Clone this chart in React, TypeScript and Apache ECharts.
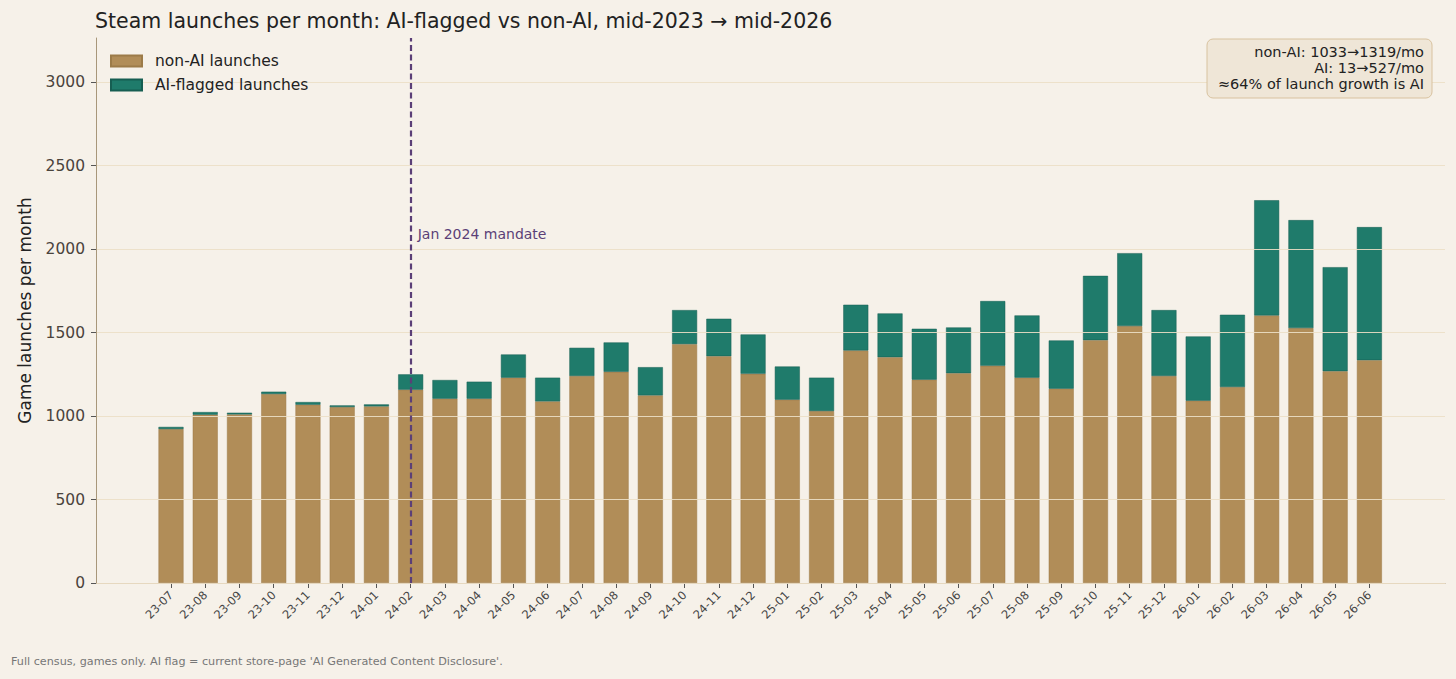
import { useEffect, useRef } from "react";
import * as echarts from "echarts";

const months = [
  "23-07", "23-08", "23-09", "23-10", "23-11", "23-12",
  "24-01", "24-02", "24-03", "24-04", "24-05", "24-06",
  "24-07", "24-08", "24-09", "24-10", "24-11", "24-12",
  "25-01", "25-02", "25-03", "25-04", "25-05", "25-06",
  "25-07", "25-08", "25-09", "25-10", "25-11", "25-12",
  "26-01", "26-02", "26-03", "26-04", "26-05", "26-06",
];

const nonAiLaunches = [
  922, 1008, 1010, 1132, 1068, 1054,
  1058, 1158, 1104, 1104, 1230, 1088,
  1240, 1265, 1124, 1431, 1359, 1253,
  1098, 1030, 1393, 1353, 1218, 1257,
  1301, 1230, 1164, 1455, 1539, 1240,
  1092, 1174, 1603, 1527, 1269, 1335,
];

const aiLaunches = [
  13, 16, 10, 14, 16, 10,
  12, 92, 112, 102, 139, 142,
  169, 176, 169, 204, 224, 236,
  199, 200, 274, 262, 305, 274,
  388, 373, 289, 385, 437, 395,
  385, 433, 690, 647, 623, 797,
];

const yTicks = [0, 500, 1000, 1500, 2000, 2500, 3000];
const mandateMonth = "24-02";
const mandateLabel = "Jan 2024 mandate";
const summaryLines = [
  "non-AI: 1033→1319/mo",
  "AI: 13→527/mo",
  "≈64% of launch growth is AI",
];

const FONT = "DejaVu Sans";
const BG = "#f6f1e9";
const TAN = "#b18d58";
const TEAL = "#1f7b6b";
const AXIS = "#a8977a";
const PURPLE = "#5b3f77";
const Y_MAX = 3265;

// outer frame (axis lines) and inner band where the months sit
const PLOT = { left: 96, right: 11, top: 38, bottom: 96 };
const SLOT = 34.24;
const FIRST_CENTER = 171;

export default function App() {
  const ref = useRef<HTMLDivElement>(null);

  useEffect(() => {
    if (!ref.current) return;
    const chart = echarts.init(ref.current, undefined, { renderer: "svg" });
    const width = ref.current.clientWidth;
    const bandLeft = FIRST_CENTER - SLOT / 2;
    const bandRight = width - (FIRST_CENTER + (months.length - 0.5) * SLOT);

    chart.setOption({
      animation: false,
      backgroundColor: BG,
      textStyle: { fontFamily: FONT },
      title: {
        text: "Steam launches per month: AI-flagged vs non-AI, mid-2023 → mid-2026",
        left: 90,
        top: 5,
        textStyle: { fontFamily: FONT, fontSize: 20.5, fontWeight: "normal", color: "#222" },
      },
      legend: {
        orient: "vertical",
        left: 110,
        top: 53,
        z: 8,
        padding: 0,
        itemWidth: 31,
        itemHeight: 11,
        itemGap: 8,
        icon: "rect",
        textStyle: { fontFamily: FONT, fontSize: 15.5, color: "#222", padding: [0, 0, 0, 8] },
        data: ["non-AI launches", "AI-flagged launches"],
      },
      grid: [
        { ...PLOT, containLabel: false },
        { left: bandLeft, right: bandRight, top: PLOT.top, bottom: PLOT.bottom, containLabel: false },
      ],
      xAxis: [
        {
          type: "value",
          gridIndex: 0,
          min: 0,
          max: 1,
          axisLine: { show: true, onZero: false, lineStyle: { color: AXIS, width: 1 } },
          axisTick: { show: false },
          axisLabel: { show: false },
          splitLine: { show: false },
        },
        {
          type: "category",
          gridIndex: 1,
          data: months,
          boundaryGap: true,
          axisLine: { show: false },
          axisTick: { show: true, alignWithLabel: true, length: 5, lineStyle: { color: "#555" } },
          axisLabel: {
            interval: 0,
            rotate: 45,
            margin: 10,
            fontSize: 11.5,
            color: "#444",
            fontFamily: FONT,
          },
          splitLine: { show: false },
        },
      ],
      yAxis: [
        {
          type: "value",
          gridIndex: 0,
          min: 0,
          max: Y_MAX,
          z: 5,
          name: "Game launches per month",
          nameLocation: "middle",
          nameGap: 63,
          nameTextStyle: { fontFamily: FONT, fontSize: 17, color: "#222" },
          axisLine: { show: true, onZero: false, lineStyle: { color: AXIS, width: 1 } },
          axisTick: { show: true, customValues: yTicks, length: 5, lineStyle: { color: "#555" } },
          axisLabel: {
            customValues: yTicks,
            fontSize: 15.5,
            color: "#4a433c",
            margin: 11,
            fontFamily: FONT,
            formatter: (v: number) => String(v),
          },
          splitLine: { show: true, lineStyle: { color: "#ecdfc6", width: 1, opacity: 0.9 } },
        },
        {
          type: "value",
          gridIndex: 1,
          min: 0,
          max: Y_MAX,
          show: false,
          splitLine: { show: false },
        },
      ],
      series: [
        {
          name: "non-AI launches",
          type: "bar",
          xAxisIndex: 1,
          yAxisIndex: 1,
          stack: "total",
          barWidth: 25,
          data: nonAiLaunches,
          itemStyle: { color: TAN, borderColor: "#9c7b48", borderWidth: 0.5 },
          markLine: {
            silent: true,
            symbol: "none",
            label: { show: false },
            lineStyle: { color: PURPLE, width: 2.2, type: [6, 3.5], opacity: 1 },
            data: [{ xAxis: mandateMonth }],
          },
          markPoint: {
            silent: true,
            symbol: "circle",
            symbolSize: 0,
            data: [{ coord: [mandateMonth, 2090], value: mandateLabel }],
            label: {
              show: true,
              position: "right",
              distance: 7,
              formatter: mandateLabel,
              fontFamily: FONT,
              fontSize: 14,
              color: PURPLE,
            },
          },
        },
        {
          name: "AI-flagged launches",
          type: "bar",
          xAxisIndex: 1,
          yAxisIndex: 1,
          stack: "total",
          barWidth: 25,
          data: aiLaunches,
          itemStyle: { color: TEAL, borderColor: "#165e52", borderWidth: 0.5 },
        },
      ],
      graphic: [
        {
          type: "rect",
          shape: { x: 1207, y: 39, width: 225, height: 59, r: 6 },
          style: { fill: "#efe6d7", stroke: "#d8c29f", lineWidth: 1 },
          z: 10,
        },
        {
          type: "text",
          x: 1424,
          y: 44,
          z: 11,
          style: {
            text: summaryLines.join("\n"),
            align: "right",
            verticalAlign: "top",
            lineHeight: 16,
            font: `14.5px "${FONT}"`,
            fill: "#222",
          },
        },
        {
          type: "text",
          x: 11,
          y: 656,
          style: {
            text: "Full census, games only. AI flag = current store-page 'AI Generated Content Disclosure'.",
            font: `11.2px "${FONT}"`,
            fill: "#777",
          },
        },
      ],
    });

    return () => chart.dispose();
  }, []);

  return (
    <div
      ref={ref}
      style={{ position: "fixed", left: 0, top: 0, width: "100vw", height: "100vh" }}
    />
  );
}
